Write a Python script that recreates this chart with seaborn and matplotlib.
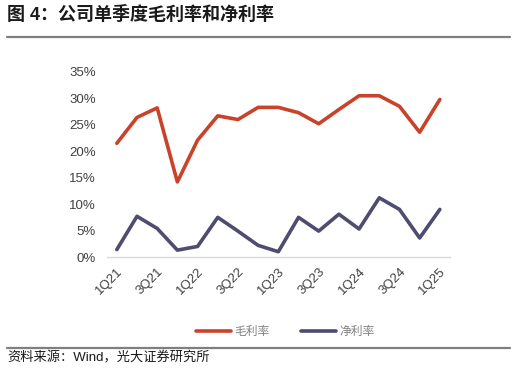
import matplotlib
matplotlib.use("Agg")
import matplotlib.pyplot as plt
import numpy as np
import pandas as pd
import seaborn as sns
from matplotlib.lines import Line2D
from matplotlib.ticker import FuncFormatter, FixedLocator

quarters = [
    "1Q21", "2Q21", "3Q21", "4Q21",
    "1Q22", "2Q22", "3Q22", "4Q22",
    "1Q23", "2Q23", "3Q23", "4Q23",
    "1Q24", "2Q24", "3Q24", "4Q24",
    "1Q25",
]
gross_margin = [21.5, 26.4, 28.2, 14.2, 22.1, 26.7, 26.0, 28.3, 28.3,
                27.3, 25.2, 27.9, 30.5, 30.5, 28.5, 23.6, 29.8]
net_margin = [1.4, 7.7, 5.4, 1.3, 2.0, 7.5, 4.9, 2.2, 1.0,
              7.5, 4.9, 8.1, 5.3, 11.2, 9.0, 3.6, 9.0]
series_names = ["毛利率", "净利率"]
colors = ["#C8432A", "#4E4C70"]

sns.set_style("white")
plt.rcParams["font.family"] = ["Liberation Sans", "Noto Sans CJK SC", "DejaVu Sans"]

idx = np.arange(len(quarters))
df = pd.DataFrame({
    "idx": np.concatenate([idx, idx]),
    "value": np.array(gross_margin + net_margin) / 100,
    "series": [series_names[0]] * len(quarters) + [series_names[1]] * len(quarters),
})

fig = plt.figure(figsize=(5.16, 3.69), dpi=100)
ax = fig.add_axes([0.2068, 0.3035, 0.872 - 0.2068, 0.805 - 0.3035])

sns.lineplot(data=df, x="idx", y="value", hue="series", hue_order=series_names,
             palette=colors, linewidth=2.6, legend=False, ax=ax)

ax.set_xlim(-0.5, len(quarters) - 0.5)
ax.set_ylim(0, 0.35)
ax.set_yticks(np.arange(0, 0.351, 0.05))
ax.yaxis.set_major_formatter(FuncFormatter(lambda v, p: f"{v * 100:.0f}%"))
ax.set_xticks(idx[::2])
ax.set_xticklabels(quarters[::2], rotation=45, ha="right", rotation_mode="anchor")
ax.xaxis.set_minor_locator(FixedLocator(np.arange(-0.5, len(quarters), 1.0)))
ax.tick_params(axis="x", which="major", length=0, pad=6, labelsize=9.5, labelcolor="#404040")
ax.tick_params(axis="x", which="minor", length=4, width=0.8, color="#D9D9D9", direction="out")
ax.tick_params(axis="y", length=0, pad=8, labelsize=9.5, labelcolor="#404040")
ax.set_xlabel("")
ax.set_ylabel("")
for s in ["top", "right", "left"]:
    ax.spines[s].set_visible(False)
ax.spines["bottom"].set_color("#D9D9D9")
ax.spines["bottom"].set_linewidth(1.0)

handles = [Line2D([], [], color=c, linewidth=2.6) for c in colors]
fig.legend(handles, series_names, loc="center", bbox_to_anchor=(0.553, 1 - 332 / 369),
           ncol=2, frameon=False, fontsize=8.5, handlelength=3.0, columnspacing=2.6,
           handletextpad=0.3, labelcolor="#808080")

fig.text(7 / 516, 1 - 15 / 369, "图 4：公司单季度毛利率和净利率", fontsize=13,
         fontweight="bold", va="center", ha="left", color="#1A1A1A")
fig.add_artist(Line2D([7 / 516, 510 / 516], [1 - 37 / 369] * 2, color="#7F7F7F", linewidth=1.6))
fig.add_artist(Line2D([7 / 516, 510 / 516], [1 - 348 / 369] * 2, color="#7F7F7F", linewidth=1.6))
fig.text(7 / 516, 1 - 358 / 369, "资料来源：Wind，光大证券研究所", fontsize=9.5,
         va="center", ha="left", color="#1A1A1A")

fig.savefig("out.png", dpi=100)
